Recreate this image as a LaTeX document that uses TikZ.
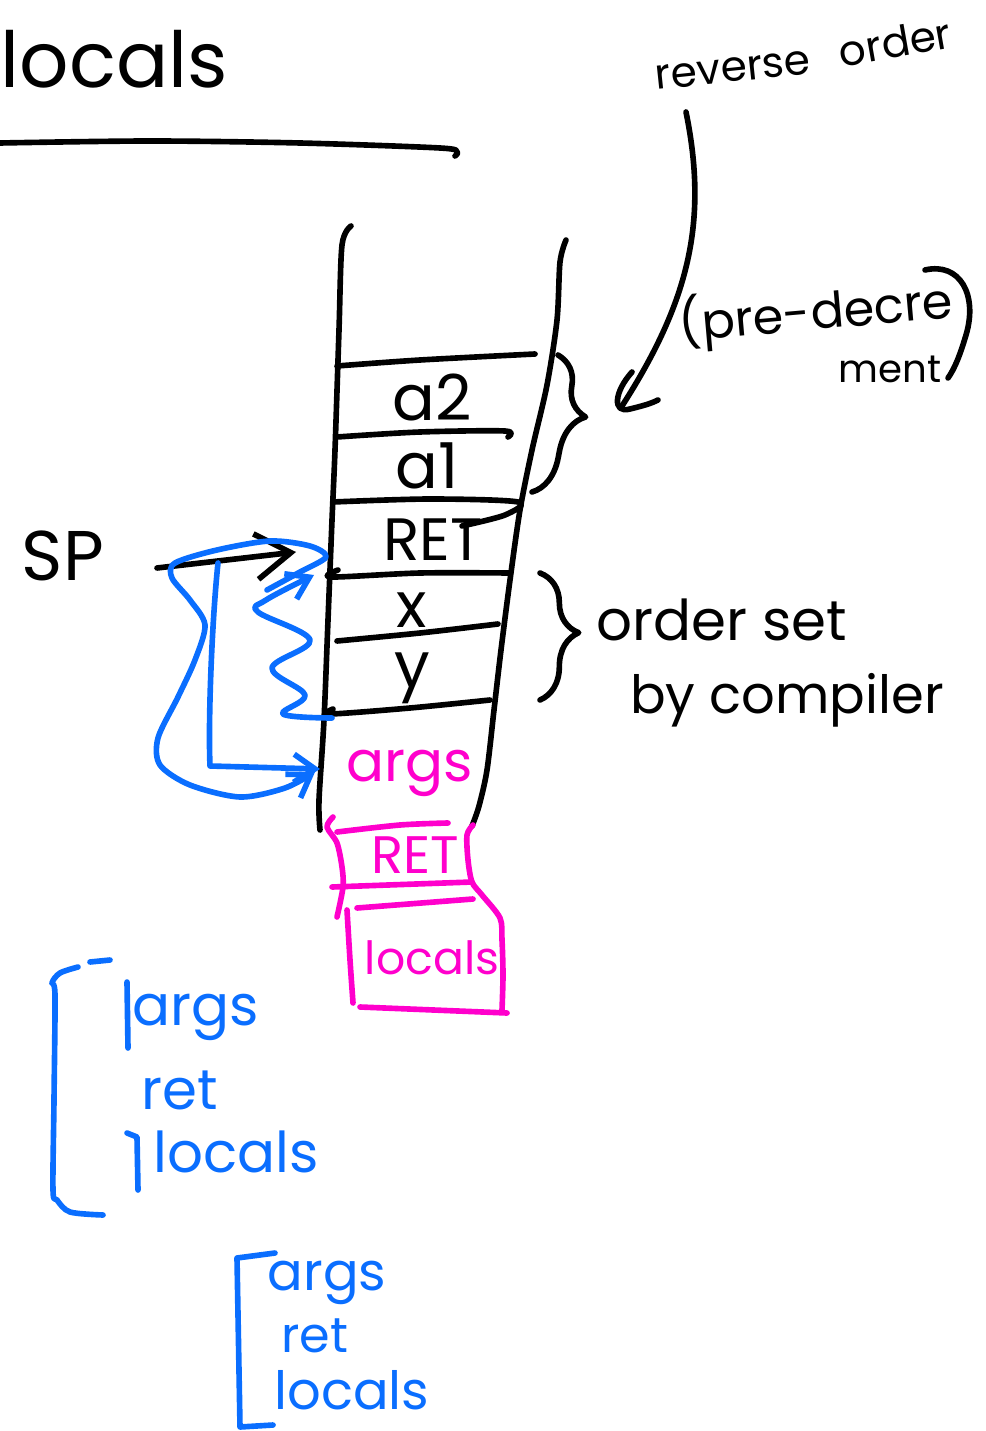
\documentclass[tikz,border=0pt]{standalone}
\usepackage{fontspec}
\setmainfont{Poppins}
\usetikzlibrary{arrows.meta,decorations.pathreplacing}
\definecolor{handblue}{RGB}{10,110,255}
\definecolor{handpink}{RGB}{255,0,204}

\begin{document}
\begin{tikzpicture}[x=0.01cm,y=-0.01cm,
	ink/.style={line width=1.6pt,line cap=round,line join=round},
	blueink/.style={ink,draw=handblue},
	pinkink/.style={ink,draw=handpink},
	word/.style={inner sep=0pt,font=\fontsize{#1}{#1}\selectfont},
	bigtip/.style={-{Straight Barb[length=10pt,width=13pt]}},
	smalltip/.style={-{Straight Barb[length=6pt,width=8pt]}}]
	\useasboundingbox (0,0) rectangle (986,1431);
	\node[word=22,anchor=base west] (title) at (0,88) {locals};
	\draw[ink] plot[smooth] coordinates {(0,143) (150,141) (300,143) (440,148) (457,152) (455,156)};
	\node[word=12,rotate=6] (rev) at (733,70) {reverse};
	\node[word=12,rotate=10] (ord) at (895,42) {order};
	\node[word=14,rotate=5] (pre) at (816,313) {(pre-decre};
	\node[word=11] (ment) at (890,369) {ment};
	\draw[ink] (925,270) .. controls (960,262) and (978,295) .. (966,335) .. controls (960,355) and (955,368) .. (948,378);
	\coordinate (revfoot) at (686,112);
	\coordinate (revtip) at (622,406);
	\draw[ink] (revfoot) .. controls (708,220) and (690,300) .. (revtip);
	\draw[ink] (632,372) .. controls (614,392) and (612,414) .. (630,409) .. controls (642,406) and (650,404) .. (658,400);
	\draw[ink] plot[smooth] coordinates {(351,226) (342,245) (339,330) (335,450) (332,520) (328,620) (324,720) (319,800) (320,830)};
	\draw[ink] plot[smooth] coordinates {(566,240) (560,262) (557,320) (547,385) (532,450) (520,510) (510,580) (501,650) (494,710) (487,770) (479,806) (472,826)};
	\draw[ink] plot[smooth] coordinates {(337,366) (420,360) (535,354)};
	\draw[ink] plot[smooth] coordinates {(337,437) (420,432) (505,431) (508,437)};
	\draw[ink] plot[smooth] coordinates {(333,502) (430,499) (518,502) (505,515) (462,526)};
	\draw[ink] plot[smooth] coordinates {(338,570) (331,577) (420,573) (510,573)};
	\draw[ink] plot[smooth] coordinates {(337,641) (420,633) (498,624)};
	\draw[ink] plot[smooth] coordinates {(333,709) (330,714) (410,708) (490,700)};
	\node[word=18] (a2) at (432,397) {a2};
	\node[word=18] (a1) at (427,466) {a1};
	\node[word=17] (ret) at (433,540) {RET};
	\node[word=18] (x) at (412,610) {x};
	\node[word=18] (y) at (412,678) {y};
	\coordinate (b1top) at (558,355);
	\coordinate (b1bot) at (532,492);
	\draw[ink,decorate,decoration={brace,amplitude=11pt,aspect=0.4}] (b1top) -- (b1bot);
	\coordinate (b2top) at (540,573);
	\coordinate (b2bot) at (540,700);
	\draw[ink,decorate,decoration={brace,amplitude=11pt,aspect=0.47}] (b2top) -- (b2bot);
	\node[word=16] (orderset) at (722,620) {order set};
	\node[word=15] (bycomp) at (787,700) {by compiler};
	\node[word=20] (sp) at (63,556) {SP};
	\coordinate (sptail) at (157,568);
	\coordinate (sphead) at (296,552);
	\draw[ink,bigtip] (sptail) -- (sphead);
	\node[word=16,text=handpink] (args) at (410,773) {args};
	\draw[pinkink] plot[smooth] coordinates {(337,832) (400,825) (448,823)};
	\draw[pinkink] plot[smooth] coordinates {(333,817) (327,827) (337,843) (342,867) (343,887) (337,917)};
	\draw[pinkink] plot[smooth] coordinates {(473,825) (467,835) (468,860) (472,882) (482,895) (500,918) (502,940) (503,975) (502,1010)};
	\draw[pinkink] (332,887) -- (472,882);
	\draw[pinkink] (357,908) -- (473,899);
	\draw[pinkink] plot[smooth] coordinates {(347,910) (350,960) (353,1003)};
	\draw[pinkink] (360,1007) -- (507,1013);
	\node[word=15,text=handpink] (ret2) at (415,855) {RET};
	\node[word=13,text=handpink] (locals2) at (432,958) {locals};
	\coordinate (ltop) at (218,563);
	\coordinate (lcorner) at (210,766);
	\coordinate (lend) at (320,769);
	\draw[blueink,smalltip] (ltop) .. controls (212,620) and (208,720) .. (lcorner) -- (lend);
	\draw[blueink,smalltip] plot[smooth] coordinates {(267,590) (300,572) (326,557) (310,546) (270,541) (217,550) (175,563) (172,578) (190,600) (205,625) (195,660) (178,697) (158,738) (160,765) (190,785) (240,797) (285,788) (315,772)};
	\draw[blueink,smalltip] plot[smooth,tension=0.6] coordinates {(332,718) (283,714) (305,695) (272,668) (310,640) (258,612) (266,600) (314,575)};
	\draw[blueink] plot[smooth] coordinates {(78,967) (60,973) (52,983) (55,995) (54,1100) (53,1190) (57,1200) (70,1212) (103,1215)};
	\draw[blueink] (90,962) -- (110,960);
	\draw[blueink] (127,982) -- (128,1048);
	\draw[blueink] (127,1133) -- (137,1137) -- (138,1190);
	\node[word=16,text=handblue] (bargs) at (196,1017) {args};
	\node[word=16,text=handblue] (bret) at (180,1090) {ret};
	\node[word=16,text=handblue] (blocals) at (236,1152) {locals};
	\draw[blueink] (275,1253) -- (237,1258) -- (240,1427) -- (273,1425);
	\node[word=15,text=handblue] (cargs) at (327,1283) {args};
	\node[word=14,text=handblue] (cret) at (315,1336) {ret};
	\node[word=15,text=handblue] (clocals) at (352,1390) {locals};
\end{tikzpicture}
\end{document}
